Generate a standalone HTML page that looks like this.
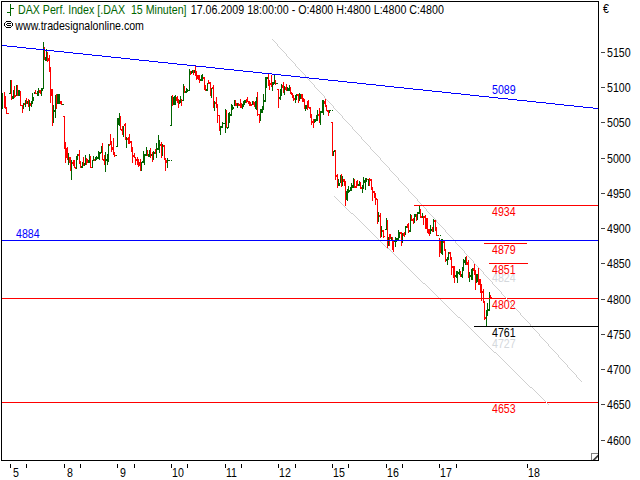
<!DOCTYPE html>
<html><head><meta charset="utf-8"><title>DAX Perf. Index</title>
<style>
html,body{margin:0;padding:0;background:#fff;}
body{width:640px;height:480px;overflow:hidden;position:relative;}
svg{position:absolute;left:0;top:0;display:block;}
text{font-family:"Liberation Sans",sans-serif;font-size:12px;}
.c{shape-rendering:crispEdges;}
</style></head><body>
<svg width="640" height="480" viewBox="0 0 640 480">
<rect x="0" y="0" width="640" height="480" fill="#fff"/>
<g class="c">
<rect x="2" y="93" width="1" height="16" fill="#006400"/>
<rect x="4" y="92" width="1" height="16" fill="#ff0000"/>
<rect x="5" y="96" width="1" height="13" fill="#ff0000"/>
<rect x="6" y="107" width="1" height="7" fill="#ff0000"/>
<rect x="7" y="113" width="1" height="1" fill="#ff0000"/>
<rect x="8" y="113" width="1" height="1" fill="#ff0000"/>
<rect x="9" y="93" width="1" height="1" fill="#006400"/>
<rect x="10" y="80" width="1" height="14" fill="#006400"/>
<rect x="11" y="80" width="1" height="20" fill="#ff0000"/>
<rect x="12" y="96" width="1" height="3" fill="#006400"/>
<rect x="13" y="90" width="1" height="9" fill="#006400"/>
<rect x="14" y="86" width="1" height="12" fill="#ff0000"/>
<rect x="15" y="95" width="1" height="2" fill="#ff0000"/>
<rect x="16" y="85" width="1" height="11" fill="#006400"/>
<rect x="17" y="85" width="1" height="11" fill="#ff0000"/>
<rect x="18" y="90" width="1" height="6" fill="#006400"/>
<rect x="19" y="90" width="1" height="6" fill="#006400"/>
<rect x="20" y="91" width="1" height="15" fill="#ff0000"/>
<rect x="21" y="105" width="1" height="1" fill="#ff0000"/>
<rect x="22" y="105" width="1" height="8" fill="#ff0000"/>
<rect x="23" y="103" width="1" height="6" fill="#006400"/>
<rect x="24" y="103" width="1" height="2" fill="#ff0000"/>
<rect x="25" y="100" width="1" height="7" fill="#006400"/>
<rect x="26" y="98" width="1" height="6" fill="#ff0000"/>
<rect x="27" y="101" width="1" height="3" fill="#006400"/>
<rect x="28" y="99" width="1" height="8" fill="#ff0000"/>
<rect x="29" y="100" width="1" height="11" fill="#006400"/>
<rect x="30" y="103" width="1" height="3" fill="#ff0000"/>
<rect x="31" y="101" width="1" height="6" fill="#006400"/>
<rect x="32" y="93" width="1" height="11" fill="#006400"/>
<rect x="33" y="97" width="1" height="4" fill="#006400"/>
<rect x="34" y="92" width="1" height="2" fill="#006400"/>
<rect x="35" y="90" width="1" height="4" fill="#ff0000"/>
<rect x="36" y="93" width="1" height="1" fill="#ff0000"/>
<rect x="37" y="91" width="1" height="5" fill="#006400"/>
<rect x="38" y="88" width="1" height="8" fill="#006400"/>
<rect x="39" y="90" width="1" height="3" fill="#ff0000"/>
<rect x="40" y="90" width="1" height="4" fill="#ff0000"/>
<rect x="41" y="88" width="1" height="8" fill="#006400"/>
<rect x="42" y="88" width="1" height="3" fill="#006400"/>
<rect x="43" y="42" width="1" height="47" fill="#006400"/>
<rect x="44" y="47" width="1" height="13" fill="#ff0000"/>
<rect x="45" y="57" width="1" height="4" fill="#006400"/>
<rect x="46" y="49" width="1" height="12" fill="#006400"/>
<rect x="47" y="52" width="1" height="10" fill="#ff0000"/>
<rect x="48" y="58" width="1" height="3" fill="#ff0000"/>
<rect x="49" y="55" width="1" height="17" fill="#ff0000"/>
<rect x="50" y="67" width="1" height="36" fill="#ff0000"/>
<rect x="51" y="89" width="1" height="7" fill="#ff0000"/>
<rect x="52" y="89" width="1" height="37" fill="#ff0000"/>
<rect x="53" y="105" width="1" height="18" fill="#006400"/>
<rect x="54" y="110" width="1" height="2" fill="#006400"/>
<rect x="55" y="95" width="1" height="23" fill="#006400"/>
<rect x="56" y="94" width="1" height="15" fill="#ff0000"/>
<rect x="57" y="94" width="1" height="10" fill="#006400"/>
<rect x="58" y="94" width="1" height="10" fill="#006400"/>
<rect x="59" y="94" width="1" height="10" fill="#006400"/>
<rect x="60" y="101" width="1" height="3" fill="#ff0000"/>
<rect x="61" y="101" width="1" height="4" fill="#ff0000"/>
<rect x="62" y="104" width="1" height="1" fill="#006400"/>
<rect x="63" y="104" width="1" height="1" fill="#006400"/>
<rect x="63" y="116" width="1" height="1" fill="#ff0000"/>
<rect x="64" y="116" width="1" height="33" fill="#ff0000"/>
<rect x="65" y="142" width="1" height="21" fill="#ff0000"/>
<rect x="66" y="148" width="1" height="10" fill="#ff0000"/>
<rect x="67" y="147" width="1" height="13" fill="#ff0000"/>
<rect x="68" y="153" width="1" height="12" fill="#006400"/>
<rect x="69" y="157" width="1" height="6" fill="#ff0000"/>
<rect x="70" y="157" width="1" height="14" fill="#ff0000"/>
<rect x="71" y="160" width="1" height="20" fill="#006400"/>
<rect x="72" y="162" width="1" height="2" fill="#ff0000"/>
<rect x="73" y="160" width="1" height="6" fill="#ff0000"/>
<rect x="74" y="160" width="1" height="8" fill="#ff0000"/>
<rect x="75" y="167" width="1" height="2" fill="#ff0000"/>
<rect x="76" y="156" width="1" height="13" fill="#006400"/>
<rect x="77" y="154" width="1" height="6" fill="#006400"/>
<rect x="78" y="154" width="1" height="2" fill="#ff0000"/>
<rect x="79" y="150" width="1" height="14" fill="#ff0000"/>
<rect x="80" y="161" width="1" height="7" fill="#ff0000"/>
<rect x="81" y="166" width="1" height="2" fill="#006400"/>
<rect x="82" y="162" width="1" height="6" fill="#006400"/>
<rect x="83" y="157" width="1" height="9" fill="#ff0000"/>
<rect x="84" y="163" width="1" height="3" fill="#006400"/>
<rect x="85" y="155" width="1" height="10" fill="#006400"/>
<rect x="86" y="158" width="1" height="7" fill="#ff0000"/>
<rect x="87" y="159" width="1" height="4" fill="#ff0000"/>
<rect x="88" y="160" width="1" height="3" fill="#006400"/>
<rect x="89" y="154" width="1" height="9" fill="#006400"/>
<rect x="90" y="156" width="1" height="12" fill="#ff0000"/>
<rect x="91" y="167" width="1" height="1" fill="#ff0000"/>
<rect x="92" y="160" width="1" height="8" fill="#006400"/>
<rect x="93" y="156" width="1" height="5" fill="#006400"/>
<rect x="94" y="159" width="1" height="2" fill="#ff0000"/>
<rect x="95" y="157" width="1" height="4" fill="#006400"/>
<rect x="96" y="156" width="1" height="4" fill="#006400"/>
<rect x="97" y="157" width="1" height="2" fill="#006400"/>
<rect x="98" y="151" width="1" height="8" fill="#006400"/>
<rect x="99" y="152" width="1" height="8" fill="#006400"/>
<rect x="100" y="152" width="1" height="2" fill="#006400"/>
<rect x="101" y="146" width="1" height="7" fill="#006400"/>
<rect x="102" y="143" width="1" height="17" fill="#ff0000"/>
<rect x="103" y="159" width="1" height="2" fill="#ff0000"/>
<rect x="104" y="155" width="1" height="10" fill="#ff0000"/>
<rect x="105" y="152" width="1" height="20" fill="#006400"/>
<rect x="106" y="159" width="1" height="2" fill="#006400"/>
<rect x="107" y="154" width="1" height="11" fill="#006400"/>
<rect x="108" y="144" width="1" height="18" fill="#006400"/>
<rect x="109" y="144" width="1" height="2" fill="#ff0000"/>
<rect x="110" y="134" width="1" height="11" fill="#ff0000"/>
<rect x="111" y="141" width="1" height="11" fill="#ff0000"/>
<rect x="112" y="147" width="1" height="3" fill="#ff0000"/>
<rect x="113" y="138" width="1" height="17" fill="#ff0000"/>
<rect x="114" y="152" width="1" height="5" fill="#ff0000"/>
<rect x="115" y="155" width="1" height="1" fill="#ff0000"/>
<rect x="116" y="146" width="1" height="1" fill="#006400"/>
<rect x="116" y="155" width="1" height="1" fill="#006400"/>
<rect x="117" y="118" width="1" height="29" fill="#006400"/>
<rect x="118" y="118" width="1" height="7" fill="#006400"/>
<rect x="119" y="113" width="1" height="13" fill="#006400"/>
<rect x="120" y="116" width="1" height="14" fill="#ff0000"/>
<rect x="121" y="129" width="1" height="2" fill="#ff0000"/>
<rect x="122" y="126" width="1" height="9" fill="#ff0000"/>
<rect x="123" y="126" width="1" height="11" fill="#006400"/>
<rect x="124" y="124" width="1" height="2" fill="#ff0000"/>
<rect x="125" y="123" width="1" height="17" fill="#ff0000"/>
<rect x="126" y="137" width="1" height="11" fill="#006400"/>
<rect x="127" y="138" width="1" height="2" fill="#ff0000"/>
<rect x="128" y="137" width="1" height="7" fill="#ff0000"/>
<rect x="129" y="134" width="1" height="10" fill="#ff0000"/>
<rect x="130" y="141" width="1" height="2" fill="#ff0000"/>
<rect x="131" y="141" width="1" height="11" fill="#ff0000"/>
<rect x="132" y="147" width="1" height="16" fill="#ff0000"/>
<rect x="133" y="155" width="1" height="2" fill="#ff0000"/>
<rect x="134" y="153" width="1" height="5" fill="#ff0000"/>
<rect x="135" y="157" width="1" height="8" fill="#ff0000"/>
<rect x="136" y="159" width="1" height="2" fill="#ff0000"/>
<rect x="137" y="157" width="1" height="8" fill="#ff0000"/>
<rect x="138" y="159" width="1" height="8" fill="#ff0000"/>
<rect x="139" y="162" width="1" height="4" fill="#ff0000"/>
<rect x="140" y="159" width="1" height="12" fill="#ff0000"/>
<rect x="141" y="162" width="1" height="9" fill="#006400"/>
<rect x="142" y="161" width="1" height="2" fill="#006400"/>
<rect x="143" y="151" width="1" height="12" fill="#006400"/>
<rect x="144" y="154" width="1" height="11" fill="#006400"/>
<rect x="145" y="154" width="1" height="2" fill="#006400"/>
<rect x="146" y="147" width="1" height="9" fill="#006400"/>
<rect x="147" y="150" width="1" height="6" fill="#ff0000"/>
<rect x="148" y="154" width="1" height="3" fill="#006400"/>
<rect x="149" y="150" width="1" height="7" fill="#006400"/>
<rect x="150" y="148" width="1" height="10" fill="#ff0000"/>
<rect x="151" y="154" width="1" height="2" fill="#006400"/>
<rect x="152" y="152" width="1" height="10" fill="#ff0000"/>
<rect x="153" y="151" width="1" height="9" fill="#006400"/>
<rect x="154" y="152" width="1" height="2" fill="#006400"/>
<rect x="155" y="149" width="1" height="5" fill="#ff0000"/>
<rect x="156" y="143" width="1" height="15" fill="#006400"/>
<rect x="157" y="148" width="1" height="2" fill="#006400"/>
<rect x="158" y="135" width="1" height="15" fill="#006400"/>
<rect x="159" y="140" width="1" height="13" fill="#006400"/>
<rect x="160" y="144" width="1" height="2" fill="#ff0000"/>
<rect x="161" y="142" width="1" height="16" fill="#ff0000"/>
<rect x="162" y="144" width="1" height="12" fill="#006400"/>
<rect x="163" y="145" width="1" height="2" fill="#ff0000"/>
<rect x="164" y="145" width="1" height="15" fill="#ff0000"/>
<rect x="165" y="158" width="1" height="13" fill="#ff0000"/>
<rect x="166" y="160" width="1" height="3" fill="#ff0000"/>
<rect x="167" y="158" width="1" height="10" fill="#006400"/>
<rect x="168" y="160" width="1" height="1" fill="#006400"/>
<rect x="169" y="160" width="1" height="1" fill="#006400"/>
<rect x="171" y="160" width="1" height="1" fill="#006400"/>
<rect x="170" y="125" width="1" height="1" fill="#006400"/>
<rect x="171" y="96" width="1" height="30" fill="#006400"/>
<rect x="172" y="95" width="1" height="11" fill="#ff0000"/>
<rect x="173" y="97" width="1" height="8" fill="#006400"/>
<rect x="174" y="96" width="1" height="9" fill="#006400"/>
<rect x="175" y="95" width="1" height="10" fill="#006400"/>
<rect x="176" y="97" width="1" height="4" fill="#ff0000"/>
<rect x="177" y="96" width="1" height="7" fill="#ff0000"/>
<rect x="178" y="99" width="1" height="9" fill="#ff0000"/>
<rect x="179" y="100" width="1" height="4" fill="#006400"/>
<rect x="180" y="96" width="1" height="7" fill="#006400"/>
<rect x="181" y="99" width="1" height="7" fill="#ff0000"/>
<rect x="182" y="100" width="1" height="1" fill="#006400"/>
<rect x="183" y="84" width="1" height="17" fill="#006400"/>
<rect x="184" y="86" width="1" height="7" fill="#ff0000"/>
<rect x="185" y="91" width="1" height="2" fill="#006400"/>
<rect x="186" y="88" width="1" height="5" fill="#006400"/>
<rect x="187" y="89" width="1" height="3" fill="#006400"/>
<rect x="188" y="90" width="1" height="1" fill="#006400"/>
<rect x="189" y="69" width="1" height="22" fill="#006400"/>
<rect x="190" y="71" width="1" height="4" fill="#ff0000"/>
<rect x="191" y="71" width="1" height="3" fill="#006400"/>
<rect x="192" y="70" width="1" height="3" fill="#006400"/>
<rect x="193" y="70" width="1" height="5" fill="#ff0000"/>
<rect x="194" y="70" width="1" height="3" fill="#006400"/>
<rect x="195" y="65" width="1" height="11" fill="#ff0000"/>
<rect x="196" y="71" width="1" height="9" fill="#ff0000"/>
<rect x="197" y="75" width="1" height="4" fill="#ff0000"/>
<rect x="198" y="75" width="1" height="5" fill="#ff0000"/>
<rect x="199" y="75" width="1" height="8" fill="#ff0000"/>
<rect x="200" y="79" width="1" height="2" fill="#006400"/>
<rect x="201" y="75" width="1" height="6" fill="#006400"/>
<rect x="202" y="74" width="1" height="7" fill="#006400"/>
<rect x="203" y="77" width="1" height="2" fill="#ff0000"/>
<rect x="204" y="77" width="1" height="13" fill="#ff0000"/>
<rect x="205" y="85" width="1" height="6" fill="#ff0000"/>
<rect x="206" y="89" width="1" height="2" fill="#006400"/>
<rect x="207" y="83" width="1" height="8" fill="#006400"/>
<rect x="208" y="80" width="1" height="4" fill="#ff0000"/>
<rect x="209" y="82" width="1" height="2" fill="#ff0000"/>
<rect x="210" y="82" width="1" height="14" fill="#ff0000"/>
<rect x="211" y="88" width="1" height="10" fill="#006400"/>
<rect x="212" y="87" width="1" height="2" fill="#ff0000"/>
<rect x="213" y="85" width="1" height="23" fill="#ff0000"/>
<rect x="214" y="101" width="1" height="10" fill="#006400"/>
<rect x="215" y="102" width="1" height="2" fill="#ff0000"/>
<rect x="216" y="97" width="1" height="11" fill="#ff0000"/>
<rect x="217" y="104" width="1" height="19" fill="#ff0000"/>
<rect x="218" y="115" width="1" height="1" fill="#ff0000"/>
<rect x="219" y="115" width="1" height="16" fill="#ff0000"/>
<rect x="220" y="126" width="1" height="9" fill="#006400"/>
<rect x="221" y="126" width="1" height="2" fill="#006400"/>
<rect x="222" y="122" width="1" height="6" fill="#006400"/>
<rect x="223" y="123" width="1" height="1" fill="#006400"/>
<rect x="224" y="123" width="1" height="1" fill="#006400"/>
<rect x="225" y="109" width="1" height="24" fill="#006400"/>
<rect x="226" y="110" width="1" height="18" fill="#ff0000"/>
<rect x="227" y="127" width="1" height="2" fill="#006400"/>
<rect x="228" y="113" width="1" height="15" fill="#006400"/>
<rect x="229" y="112" width="1" height="11" fill="#006400"/>
<rect x="230" y="114" width="1" height="2" fill="#006400"/>
<rect x="231" y="104" width="1" height="12" fill="#006400"/>
<rect x="232" y="105" width="1" height="5" fill="#006400"/>
<rect x="233" y="107" width="1" height="2" fill="#006400"/>
<rect x="234" y="100" width="1" height="6" fill="#006400"/>
<rect x="235" y="100" width="1" height="6" fill="#ff0000"/>
<rect x="236" y="103" width="1" height="3" fill="#ff0000"/>
<rect x="237" y="103" width="1" height="5" fill="#006400"/>
<rect x="238" y="103" width="1" height="3" fill="#ff0000"/>
<rect x="239" y="104" width="1" height="2" fill="#ff0000"/>
<rect x="240" y="99" width="1" height="9" fill="#ff0000"/>
<rect x="241" y="103" width="1" height="5" fill="#ff0000"/>
<rect x="242" y="104" width="1" height="5" fill="#006400"/>
<rect x="243" y="101" width="1" height="6" fill="#006400"/>
<rect x="244" y="100" width="1" height="5" fill="#006400"/>
<rect x="245" y="100" width="1" height="3" fill="#006400"/>
<rect x="246" y="99" width="1" height="4" fill="#ff0000"/>
<rect x="247" y="97" width="1" height="5" fill="#ff0000"/>
<rect x="248" y="101" width="1" height="3" fill="#ff0000"/>
<rect x="249" y="101" width="1" height="5" fill="#ff0000"/>
<rect x="250" y="102" width="1" height="4" fill="#ff0000"/>
<rect x="251" y="104" width="1" height="2" fill="#ff0000"/>
<rect x="252" y="101" width="1" height="4" fill="#006400"/>
<rect x="253" y="101" width="1" height="4" fill="#ff0000"/>
<rect x="254" y="102" width="1" height="5" fill="#ff0000"/>
<rect x="255" y="101" width="1" height="8" fill="#006400"/>
<rect x="256" y="97" width="1" height="13" fill="#006400"/>
<rect x="257" y="92" width="1" height="24" fill="#ff0000"/>
<rect x="258" y="114" width="1" height="1" fill="#ff0000"/>
<rect x="259" y="114" width="1" height="9" fill="#ff0000"/>
<rect x="260" y="109" width="1" height="12" fill="#006400"/>
<rect x="261" y="109" width="1" height="4" fill="#006400"/>
<rect x="262" y="106" width="1" height="7" fill="#006400"/>
<rect x="263" y="94" width="1" height="16" fill="#006400"/>
<rect x="264" y="100" width="1" height="2" fill="#006400"/>
<rect x="265" y="77" width="1" height="25" fill="#006400"/>
<rect x="266" y="77" width="1" height="11" fill="#006400"/>
<rect x="267" y="77" width="1" height="2" fill="#006400"/>
<rect x="268" y="74" width="1" height="12" fill="#ff0000"/>
<rect x="269" y="80" width="1" height="10" fill="#ff0000"/>
<rect x="270" y="83" width="1" height="2" fill="#ff0000"/>
<rect x="271" y="75" width="1" height="12" fill="#ff0000"/>
<rect x="272" y="82" width="1" height="9" fill="#006400"/>
<rect x="273" y="82" width="1" height="3" fill="#006400"/>
<rect x="274" y="75" width="1" height="9" fill="#006400"/>
<rect x="275" y="80" width="1" height="5" fill="#ff0000"/>
<rect x="276" y="83" width="1" height="1" fill="#006400"/>
<rect x="277" y="83" width="1" height="1" fill="#006400"/>
<rect x="277" y="89" width="1" height="1" fill="#ff0000"/>
<rect x="278" y="89" width="1" height="19" fill="#ff0000"/>
<rect x="279" y="97" width="1" height="2" fill="#006400"/>
<rect x="280" y="89" width="1" height="11" fill="#006400"/>
<rect x="281" y="84" width="1" height="12" fill="#006400"/>
<rect x="282" y="85" width="1" height="3" fill="#ff0000"/>
<rect x="283" y="82" width="1" height="11" fill="#ff0000"/>
<rect x="284" y="86" width="1" height="9" fill="#006400"/>
<rect x="285" y="87" width="1" height="3" fill="#ff0000"/>
<rect x="286" y="84" width="1" height="7" fill="#ff0000"/>
<rect x="287" y="87" width="1" height="4" fill="#006400"/>
<rect x="288" y="88" width="1" height="3" fill="#006400"/>
<rect x="289" y="85" width="1" height="6" fill="#006400"/>
<rect x="290" y="87" width="1" height="7" fill="#ff0000"/>
<rect x="291" y="92" width="1" height="3" fill="#ff0000"/>
<rect x="292" y="93" width="1" height="5" fill="#ff0000"/>
<rect x="293" y="95" width="1" height="6" fill="#ff0000"/>
<rect x="294" y="98" width="1" height="2" fill="#ff0000"/>
<rect x="295" y="95" width="1" height="8" fill="#006400"/>
<rect x="296" y="94" width="1" height="6" fill="#006400"/>
<rect x="297" y="94" width="1" height="2" fill="#ff0000"/>
<rect x="298" y="94" width="1" height="9" fill="#ff0000"/>
<rect x="299" y="93" width="1" height="8" fill="#006400"/>
<rect x="300" y="94" width="1" height="5" fill="#006400"/>
<rect x="301" y="94" width="1" height="5" fill="#ff0000"/>
<rect x="302" y="94" width="1" height="8" fill="#ff0000"/>
<rect x="303" y="98" width="1" height="4" fill="#ff0000"/>
<rect x="304" y="99" width="1" height="10" fill="#ff0000"/>
<rect x="305" y="105" width="1" height="6" fill="#006400"/>
<rect x="306" y="105" width="1" height="4" fill="#006400"/>
<rect x="307" y="101" width="1" height="9" fill="#ff0000"/>
<rect x="308" y="100" width="1" height="8" fill="#ff0000"/>
<rect x="309" y="107" width="1" height="2" fill="#ff0000"/>
<rect x="310" y="107" width="1" height="11" fill="#ff0000"/>
<rect x="311" y="114" width="1" height="11" fill="#ff0000"/>
<rect x="312" y="121" width="1" height="2" fill="#ff0000"/>
<rect x="313" y="119" width="1" height="9" fill="#ff0000"/>
<rect x="314" y="119" width="1" height="4" fill="#006400"/>
<rect x="315" y="119" width="1" height="3" fill="#006400"/>
<rect x="316" y="115" width="1" height="6" fill="#006400"/>
<rect x="317" y="110" width="1" height="11" fill="#006400"/>
<rect x="318" y="114" width="1" height="2" fill="#ff0000"/>
<rect x="319" y="108" width="1" height="15" fill="#ff0000"/>
<rect x="320" y="111" width="1" height="14" fill="#006400"/>
<rect x="321" y="111" width="1" height="2" fill="#006400"/>
<rect x="322" y="100" width="1" height="13" fill="#006400"/>
<rect x="323" y="100" width="1" height="15" fill="#006400"/>
<rect x="324" y="101" width="1" height="3" fill="#ff0000"/>
<rect x="325" y="99" width="1" height="8" fill="#ff0000"/>
<rect x="326" y="105" width="1" height="6" fill="#ff0000"/>
<rect x="327" y="110" width="1" height="2" fill="#ff0000"/>
<rect x="328" y="110" width="1" height="6" fill="#ff0000"/>
<rect x="329" y="110" width="1" height="3" fill="#006400"/>
<rect x="330" y="110" width="1" height="1" fill="#006400"/>
<rect x="332" y="110" width="1" height="1" fill="#006400"/>
<rect x="331" y="122" width="1" height="1" fill="#ff0000"/>
<rect x="332" y="122" width="1" height="34" fill="#ff0000"/>
<rect x="333" y="151" width="1" height="5" fill="#006400"/>
<rect x="334" y="150" width="1" height="2" fill="#006400"/>
<rect x="335" y="150" width="1" height="30" fill="#ff0000"/>
<rect x="336" y="175" width="1" height="2" fill="#ff0000"/>
<rect x="337" y="174" width="1" height="14" fill="#ff0000"/>
<rect x="338" y="179" width="1" height="7" fill="#006400"/>
<rect x="339" y="183" width="1" height="3" fill="#006400"/>
<rect x="340" y="175" width="1" height="8" fill="#006400"/>
<rect x="341" y="174" width="1" height="13" fill="#ff0000"/>
<rect x="342" y="176" width="1" height="10" fill="#006400"/>
<rect x="343" y="179" width="1" height="3" fill="#ff0000"/>
<rect x="344" y="179" width="1" height="7" fill="#ff0000"/>
<rect x="345" y="181" width="1" height="25" fill="#ff0000"/>
<rect x="346" y="191" width="1" height="9" fill="#006400"/>
<rect x="347" y="189" width="1" height="12" fill="#006400"/>
<rect x="348" y="186" width="1" height="7" fill="#006400"/>
<rect x="349" y="190" width="1" height="2" fill="#006400"/>
<rect x="350" y="187" width="1" height="4" fill="#006400"/>
<rect x="351" y="183" width="1" height="8" fill="#006400"/>
<rect x="352" y="185" width="1" height="3" fill="#006400"/>
<rect x="353" y="178" width="1" height="10" fill="#006400"/>
<rect x="354" y="179" width="1" height="9" fill="#ff0000"/>
<rect x="355" y="186" width="1" height="2" fill="#ff0000"/>
<rect x="356" y="181" width="1" height="7" fill="#ff0000"/>
<rect x="357" y="180" width="1" height="6" fill="#ff0000"/>
<rect x="358" y="184" width="1" height="2" fill="#006400"/>
<rect x="359" y="181" width="1" height="5" fill="#006400"/>
<rect x="360" y="182" width="1" height="7" fill="#ff0000"/>
<rect x="361" y="187" width="1" height="2" fill="#ff0000"/>
<rect x="362" y="185" width="1" height="8" fill="#006400"/>
<rect x="363" y="177" width="1" height="12" fill="#006400"/>
<rect x="364" y="180" width="1" height="3" fill="#006400"/>
<rect x="365" y="178" width="1" height="12" fill="#006400"/>
<rect x="366" y="178" width="1" height="4" fill="#006400"/>
<rect x="367" y="179" width="1" height="1" fill="#ff0000"/>
<rect x="368" y="179" width="1" height="7" fill="#006400"/>
<rect x="369" y="178" width="1" height="8" fill="#ff0000"/>
<rect x="370" y="179" width="1" height="2" fill="#ff0000"/>
<rect x="371" y="179" width="1" height="11" fill="#ff0000"/>
<rect x="372" y="187" width="1" height="14" fill="#ff0000"/>
<rect x="373" y="191" width="1" height="2" fill="#ff0000"/>
<rect x="374" y="191" width="1" height="7" fill="#ff0000"/>
<rect x="375" y="193" width="1" height="12" fill="#ff0000"/>
<rect x="376" y="198" width="1" height="2" fill="#ff0000"/>
<rect x="377" y="199" width="1" height="25" fill="#ff0000"/>
<rect x="378" y="212" width="1" height="10" fill="#006400"/>
<rect x="379" y="215" width="1" height="2" fill="#ff0000"/>
<rect x="380" y="213" width="1" height="25" fill="#ff0000"/>
<rect x="381" y="226" width="1" height="11" fill="#006400"/>
<rect x="382" y="230" width="1" height="2" fill="#ff0000"/>
<rect x="383" y="230" width="1" height="8" fill="#ff0000"/>
<rect x="384" y="236" width="1" height="1" fill="#ff0000"/>
<rect x="385" y="229" width="1" height="1" fill="#006400"/>
<rect x="386" y="218" width="1" height="12" fill="#006400"/>
<rect x="387" y="220" width="1" height="29" fill="#ff0000"/>
<rect x="388" y="237" width="1" height="9" fill="#006400"/>
<rect x="389" y="234" width="1" height="12" fill="#ff0000"/>
<rect x="390" y="234" width="1" height="5" fill="#ff0000"/>
<rect x="391" y="237" width="1" height="4" fill="#006400"/>
<rect x="392" y="237" width="1" height="13" fill="#ff0000"/>
<rect x="393" y="241" width="1" height="11" fill="#ff0000"/>
<rect x="394" y="240" width="1" height="2" fill="#006400"/>
<rect x="395" y="237" width="1" height="10" fill="#006400"/>
<rect x="396" y="238" width="1" height="4" fill="#006400"/>
<rect x="397" y="238" width="1" height="3" fill="#006400"/>
<rect x="398" y="230" width="1" height="11" fill="#006400"/>
<rect x="399" y="232" width="1" height="6" fill="#006400"/>
<rect x="400" y="232" width="1" height="2" fill="#ff0000"/>
<rect x="401" y="232" width="1" height="14" fill="#ff0000"/>
<rect x="402" y="233" width="1" height="10" fill="#006400"/>
<rect x="403" y="233" width="1" height="3" fill="#ff0000"/>
<rect x="404" y="232" width="1" height="5" fill="#ff0000"/>
<rect x="405" y="226" width="1" height="9" fill="#006400"/>
<rect x="406" y="226" width="1" height="2" fill="#006400"/>
<rect x="407" y="224" width="1" height="4" fill="#ff0000"/>
<rect x="408" y="223" width="1" height="10" fill="#ff0000"/>
<rect x="409" y="230" width="1" height="2" fill="#006400"/>
<rect x="410" y="214" width="1" height="18" fill="#006400"/>
<rect x="411" y="215" width="1" height="6" fill="#ff0000"/>
<rect x="412" y="219" width="1" height="2" fill="#ff0000"/>
<rect x="413" y="218" width="1" height="6" fill="#ff0000"/>
<rect x="414" y="214" width="1" height="9" fill="#006400"/>
<rect x="415" y="214" width="1" height="3" fill="#006400"/>
<rect x="416" y="214" width="1" height="7" fill="#ff0000"/>
<rect x="417" y="212" width="1" height="8" fill="#006400"/>
<rect x="418" y="212" width="1" height="2" fill="#006400"/>
<rect x="419" y="205" width="1" height="9" fill="#006400"/>
<rect x="420" y="209" width="1" height="9" fill="#ff0000"/>
<rect x="421" y="216" width="1" height="2" fill="#ff0000"/>
<rect x="422" y="213" width="1" height="5" fill="#006400"/>
<rect x="423" y="216" width="1" height="9" fill="#ff0000"/>
<rect x="424" y="216" width="1" height="2" fill="#ff0000"/>
<rect x="425" y="215" width="1" height="14" fill="#ff0000"/>
<rect x="426" y="218" width="1" height="11" fill="#ff0000"/>
<rect x="427" y="218" width="1" height="15" fill="#ff0000"/>
<rect x="428" y="229" width="1" height="5" fill="#ff0000"/>
<rect x="429" y="229" width="1" height="7" fill="#ff0000"/>
<rect x="430" y="225" width="1" height="9" fill="#006400"/>
<rect x="431" y="229" width="1" height="2" fill="#006400"/>
<rect x="432" y="227" width="1" height="5" fill="#ff0000"/>
<rect x="433" y="219" width="1" height="13" fill="#006400"/>
<rect x="434" y="220" width="1" height="2" fill="#ff0000"/>
<rect x="435" y="220" width="1" height="11" fill="#ff0000"/>
<rect x="436" y="227" width="1" height="9" fill="#ff0000"/>
<rect x="437" y="235" width="1" height="1" fill="#ff0000"/>
<rect x="438" y="235" width="1" height="1" fill="#006400"/>
<rect x="440" y="235" width="1" height="1" fill="#006400"/>
<rect x="439" y="238" width="1" height="19" fill="#ff0000"/>
<rect x="440" y="241" width="1" height="12" fill="#ff0000"/>
<rect x="441" y="239" width="1" height="15" fill="#006400"/>
<rect x="442" y="239" width="1" height="16" fill="#006400"/>
<rect x="443" y="241" width="1" height="2" fill="#ff0000"/>
<rect x="444" y="241" width="1" height="10" fill="#ff0000"/>
<rect x="445" y="249" width="1" height="13" fill="#ff0000"/>
<rect x="446" y="259" width="1" height="2" fill="#006400"/>
<rect x="447" y="257" width="1" height="8" fill="#006400"/>
<rect x="448" y="252" width="1" height="8" fill="#006400"/>
<rect x="449" y="252" width="1" height="2" fill="#ff0000"/>
<rect x="450" y="252" width="1" height="8" fill="#ff0000"/>
<rect x="451" y="257" width="1" height="18" fill="#ff0000"/>
<rect x="452" y="266" width="1" height="2" fill="#ff0000"/>
<rect x="453" y="266" width="1" height="12" fill="#ff0000"/>
<rect x="454" y="266" width="1" height="17" fill="#ff0000"/>
<rect x="455" y="275" width="1" height="2" fill="#006400"/>
<rect x="456" y="271" width="1" height="7" fill="#006400"/>
<rect x="457" y="271" width="1" height="12" fill="#006400"/>
<rect x="458" y="272" width="1" height="2" fill="#006400"/>
<rect x="459" y="269" width="1" height="6" fill="#006400"/>
<rect x="460" y="271" width="1" height="6" fill="#ff0000"/>
<rect x="461" y="274" width="1" height="3" fill="#006400"/>
<rect x="462" y="267" width="1" height="11" fill="#006400"/>
<rect x="463" y="259" width="1" height="12" fill="#006400"/>
<rect x="464" y="260" width="1" height="3" fill="#006400"/>
<rect x="465" y="257" width="1" height="8" fill="#006400"/>
<rect x="466" y="256" width="1" height="9" fill="#ff0000"/>
<rect x="467" y="262" width="1" height="3" fill="#ff0000"/>
<rect x="468" y="260" width="1" height="18" fill="#ff0000"/>
<rect x="469" y="272" width="1" height="10" fill="#006400"/>
<rect x="470" y="275" width="1" height="2" fill="#006400"/>
<rect x="471" y="269" width="1" height="11" fill="#006400"/>
<rect x="472" y="268" width="1" height="12" fill="#006400"/>
<rect x="473" y="268" width="1" height="3" fill="#ff0000"/>
<rect x="474" y="264" width="1" height="11" fill="#ff0000"/>
<rect x="475" y="270" width="1" height="20" fill="#ff0000"/>
<rect x="476" y="274" width="1" height="9" fill="#006400"/>
<rect x="477" y="274" width="1" height="8" fill="#006400"/>
<rect x="478" y="268" width="1" height="17" fill="#ff0000"/>
<rect x="479" y="279" width="1" height="6" fill="#ff0000"/>
<rect x="480" y="279" width="1" height="14" fill="#ff0000"/>
<rect x="481" y="284" width="1" height="17" fill="#ff0000"/>
<rect x="482" y="291" width="1" height="2" fill="#ff0000"/>
<rect x="483" y="289" width="1" height="14" fill="#ff0000"/>
<rect x="484" y="301" width="1" height="19" fill="#ff0000"/>
<rect x="485" y="317" width="1" height="2" fill="#ff0000"/>
<rect x="486" y="310" width="1" height="17" fill="#006400"/>
<rect x="487" y="303" width="1" height="13" fill="#006400"/>
<rect x="488" y="309" width="1" height="2" fill="#006400"/>
<rect x="489" y="292" width="1" height="19" fill="#006400"/>
<rect x="490" y="295" width="1" height="4" fill="#ff0000"/>
<rect x="491" y="297" width="1" height="2" fill="#ff0000"/>
<rect x="492" y="298" width="1" height="1" fill="#006400"/>
<rect x="493" y="298" width="1" height="1" fill="#006400"/>
</g>
<g class="c" fill="#d0d0d0">
<rect x="272" y="39" width="1" height="1"/>
<rect x="273" y="40" width="1" height="1"/>
<rect x="274" y="41" width="1" height="1"/>
<rect x="275" y="42" width="1" height="1"/>
<rect x="276" y="43" width="1" height="1"/>
<rect x="277" y="44" width="1" height="2"/>
<rect x="278" y="46" width="1" height="1"/>
<rect x="279" y="47" width="1" height="1"/>
<rect x="280" y="48" width="1" height="1"/>
<rect x="281" y="49" width="1" height="1"/>
<rect x="282" y="50" width="1" height="1"/>
<rect x="283" y="51" width="1" height="1"/>
<rect x="284" y="52" width="1" height="1"/>
<rect x="285" y="53" width="1" height="1"/>
<rect x="286" y="54" width="1" height="2"/>
<rect x="287" y="56" width="1" height="1"/>
<rect x="288" y="57" width="1" height="1"/>
<rect x="289" y="58" width="1" height="1"/>
<rect x="290" y="59" width="1" height="1"/>
<rect x="291" y="60" width="1" height="1"/>
<rect x="292" y="61" width="1" height="1"/>
<rect x="293" y="62" width="1" height="1"/>
<rect x="294" y="63" width="1" height="1"/>
<rect x="295" y="64" width="1" height="2"/>
<rect x="296" y="66" width="1" height="1"/>
<rect x="297" y="67" width="1" height="1"/>
<rect x="298" y="68" width="1" height="1"/>
<rect x="299" y="69" width="1" height="1"/>
<rect x="300" y="70" width="1" height="1"/>
<rect x="301" y="71" width="1" height="1"/>
<rect x="302" y="72" width="1" height="1"/>
<rect x="303" y="73" width="1" height="1"/>
<rect x="304" y="74" width="1" height="1"/>
<rect x="305" y="75" width="1" height="2"/>
<rect x="306" y="77" width="1" height="1"/>
<rect x="307" y="78" width="1" height="1"/>
<rect x="308" y="79" width="1" height="1"/>
<rect x="309" y="80" width="1" height="1"/>
<rect x="310" y="81" width="1" height="1"/>
<rect x="311" y="82" width="1" height="1"/>
<rect x="312" y="83" width="1" height="1"/>
<rect x="313" y="84" width="1" height="1"/>
<rect x="314" y="85" width="1" height="2"/>
<rect x="315" y="87" width="1" height="1"/>
<rect x="316" y="88" width="1" height="1"/>
<rect x="317" y="89" width="1" height="1"/>
<rect x="318" y="90" width="1" height="1"/>
<rect x="319" y="91" width="1" height="1"/>
<rect x="320" y="92" width="1" height="1"/>
<rect x="321" y="93" width="1" height="1"/>
<rect x="322" y="94" width="1" height="1"/>
<rect x="323" y="95" width="1" height="1"/>
<rect x="324" y="96" width="1" height="2"/>
<rect x="325" y="98" width="1" height="1"/>
<rect x="326" y="99" width="1" height="1"/>
<rect x="327" y="100" width="1" height="1"/>
<rect x="328" y="101" width="1" height="1"/>
<rect x="329" y="102" width="1" height="1"/>
<rect x="330" y="103" width="1" height="1"/>
<rect x="331" y="104" width="1" height="1"/>
<rect x="332" y="105" width="1" height="1"/>
<rect x="333" y="106" width="1" height="2"/>
<rect x="334" y="108" width="1" height="1"/>
<rect x="335" y="109" width="1" height="1"/>
<rect x="336" y="110" width="1" height="1"/>
<rect x="337" y="111" width="1" height="1"/>
<rect x="338" y="112" width="1" height="1"/>
<rect x="339" y="113" width="1" height="1"/>
<rect x="340" y="114" width="1" height="1"/>
<rect x="341" y="115" width="1" height="1"/>
<rect x="342" y="116" width="1" height="2"/>
<rect x="343" y="118" width="1" height="1"/>
<rect x="344" y="119" width="1" height="1"/>
<rect x="345" y="120" width="1" height="1"/>
<rect x="346" y="121" width="1" height="1"/>
<rect x="347" y="122" width="1" height="1"/>
<rect x="348" y="123" width="1" height="1"/>
<rect x="349" y="124" width="1" height="1"/>
<rect x="350" y="125" width="1" height="1"/>
<rect x="351" y="126" width="1" height="1"/>
<rect x="352" y="127" width="1" height="2"/>
<rect x="353" y="129" width="1" height="1"/>
<rect x="354" y="130" width="1" height="1"/>
<rect x="355" y="131" width="1" height="1"/>
<rect x="356" y="132" width="1" height="1"/>
<rect x="357" y="133" width="1" height="1"/>
<rect x="358" y="134" width="1" height="1"/>
<rect x="359" y="135" width="1" height="1"/>
<rect x="360" y="136" width="1" height="1"/>
<rect x="361" y="137" width="1" height="2"/>
<rect x="362" y="139" width="1" height="1"/>
<rect x="363" y="140" width="1" height="1"/>
<rect x="364" y="141" width="1" height="1"/>
<rect x="365" y="142" width="1" height="1"/>
<rect x="366" y="143" width="1" height="1"/>
<rect x="367" y="144" width="1" height="1"/>
<rect x="368" y="145" width="1" height="1"/>
<rect x="369" y="146" width="1" height="1"/>
<rect x="370" y="147" width="1" height="2"/>
<rect x="371" y="149" width="1" height="1"/>
<rect x="372" y="150" width="1" height="1"/>
<rect x="373" y="151" width="1" height="1"/>
<rect x="374" y="152" width="1" height="1"/>
<rect x="375" y="153" width="1" height="1"/>
<rect x="376" y="154" width="1" height="1"/>
<rect x="377" y="155" width="1" height="1"/>
<rect x="378" y="156" width="1" height="1"/>
<rect x="379" y="157" width="1" height="1"/>
<rect x="380" y="158" width="1" height="2"/>
<rect x="381" y="160" width="1" height="1"/>
<rect x="382" y="161" width="1" height="1"/>
<rect x="383" y="162" width="1" height="1"/>
<rect x="384" y="163" width="1" height="1"/>
<rect x="385" y="164" width="1" height="1"/>
<rect x="386" y="165" width="1" height="1"/>
<rect x="387" y="166" width="1" height="1"/>
<rect x="388" y="167" width="1" height="1"/>
<rect x="389" y="168" width="1" height="2"/>
<rect x="390" y="170" width="1" height="1"/>
<rect x="391" y="171" width="1" height="1"/>
<rect x="392" y="172" width="1" height="1"/>
<rect x="393" y="173" width="1" height="1"/>
<rect x="394" y="174" width="1" height="1"/>
<rect x="395" y="175" width="1" height="1"/>
<rect x="396" y="176" width="1" height="1"/>
<rect x="397" y="177" width="1" height="1"/>
<rect x="398" y="178" width="1" height="2"/>
<rect x="399" y="180" width="1" height="1"/>
<rect x="400" y="181" width="1" height="1"/>
<rect x="401" y="182" width="1" height="1"/>
<rect x="402" y="183" width="1" height="1"/>
<rect x="403" y="184" width="1" height="1"/>
<rect x="404" y="185" width="1" height="1"/>
<rect x="405" y="186" width="1" height="1"/>
<rect x="406" y="187" width="1" height="1"/>
<rect x="407" y="188" width="1" height="1"/>
<rect x="408" y="189" width="1" height="2"/>
<rect x="409" y="191" width="1" height="1"/>
<rect x="410" y="192" width="1" height="1"/>
<rect x="411" y="193" width="1" height="1"/>
<rect x="412" y="194" width="1" height="1"/>
<rect x="413" y="195" width="1" height="1"/>
<rect x="414" y="196" width="1" height="1"/>
<rect x="415" y="197" width="1" height="1"/>
<rect x="416" y="198" width="1" height="1"/>
<rect x="417" y="199" width="1" height="2"/>
<rect x="418" y="201" width="1" height="1"/>
<rect x="419" y="202" width="1" height="1"/>
<rect x="420" y="203" width="1" height="1"/>
<rect x="421" y="204" width="1" height="1"/>
<rect x="422" y="205" width="1" height="1"/>
<rect x="423" y="206" width="1" height="1"/>
<rect x="424" y="207" width="1" height="1"/>
<rect x="425" y="208" width="1" height="1"/>
<rect x="426" y="209" width="1" height="2"/>
<rect x="427" y="211" width="1" height="1"/>
<rect x="428" y="212" width="1" height="1"/>
<rect x="429" y="213" width="1" height="1"/>
<rect x="430" y="214" width="1" height="1"/>
<rect x="431" y="215" width="1" height="1"/>
<rect x="432" y="216" width="1" height="1"/>
<rect x="433" y="217" width="1" height="1"/>
<rect x="434" y="218" width="1" height="1"/>
<rect x="435" y="219" width="1" height="1"/>
<rect x="436" y="220" width="1" height="2"/>
<rect x="437" y="222" width="1" height="1"/>
<rect x="438" y="223" width="1" height="1"/>
<rect x="439" y="224" width="1" height="1"/>
<rect x="440" y="225" width="1" height="1"/>
<rect x="441" y="226" width="1" height="1"/>
<rect x="442" y="227" width="1" height="1"/>
<rect x="443" y="228" width="1" height="1"/>
<rect x="444" y="229" width="1" height="1"/>
<rect x="445" y="230" width="1" height="2"/>
<rect x="446" y="232" width="1" height="1"/>
<rect x="447" y="233" width="1" height="1"/>
<rect x="448" y="234" width="1" height="1"/>
<rect x="449" y="235" width="1" height="1"/>
<rect x="450" y="236" width="1" height="1"/>
<rect x="451" y="237" width="1" height="1"/>
<rect x="452" y="238" width="1" height="1"/>
<rect x="453" y="239" width="1" height="1"/>
<rect x="454" y="240" width="1" height="1"/>
<rect x="455" y="241" width="1" height="2"/>
<rect x="456" y="243" width="1" height="1"/>
<rect x="457" y="244" width="1" height="1"/>
<rect x="458" y="245" width="1" height="1"/>
<rect x="459" y="246" width="1" height="1"/>
<rect x="460" y="247" width="1" height="1"/>
<rect x="461" y="248" width="1" height="1"/>
<rect x="462" y="249" width="1" height="1"/>
<rect x="463" y="250" width="1" height="1"/>
<rect x="464" y="251" width="1" height="2"/>
<rect x="465" y="253" width="1" height="1"/>
<rect x="466" y="254" width="1" height="1"/>
<rect x="467" y="255" width="1" height="1"/>
<rect x="468" y="256" width="1" height="1"/>
<rect x="469" y="257" width="1" height="1"/>
<rect x="470" y="258" width="1" height="1"/>
<rect x="471" y="259" width="1" height="1"/>
<rect x="472" y="260" width="1" height="1"/>
<rect x="473" y="261" width="1" height="2"/>
<rect x="474" y="263" width="1" height="1"/>
<rect x="475" y="264" width="1" height="1"/>
<rect x="476" y="265" width="1" height="1"/>
<rect x="477" y="266" width="1" height="1"/>
<rect x="478" y="267" width="1" height="1"/>
<rect x="479" y="268" width="1" height="1"/>
<rect x="480" y="269" width="1" height="1"/>
<rect x="481" y="270" width="1" height="1"/>
<rect x="482" y="271" width="1" height="1"/>
<rect x="483" y="272" width="1" height="2"/>
<rect x="484" y="274" width="1" height="1"/>
<rect x="485" y="275" width="1" height="1"/>
<rect x="486" y="276" width="1" height="1"/>
<rect x="487" y="277" width="1" height="1"/>
<rect x="488" y="278" width="1" height="1"/>
<rect x="489" y="279" width="1" height="1"/>
<rect x="490" y="280" width="1" height="1"/>
<rect x="491" y="281" width="1" height="1"/>
<rect x="492" y="282" width="1" height="2"/>
<rect x="493" y="284" width="1" height="1"/>
<rect x="494" y="285" width="1" height="1"/>
<rect x="495" y="286" width="1" height="1"/>
<rect x="496" y="287" width="1" height="1"/>
<rect x="497" y="288" width="1" height="1"/>
<rect x="498" y="289" width="1" height="1"/>
<rect x="499" y="290" width="1" height="1"/>
<rect x="500" y="291" width="1" height="1"/>
<rect x="501" y="292" width="1" height="2"/>
<rect x="502" y="294" width="1" height="1"/>
<rect x="503" y="295" width="1" height="1"/>
<rect x="504" y="296" width="1" height="1"/>
<rect x="505" y="297" width="1" height="1"/>
<rect x="506" y="298" width="1" height="1"/>
<rect x="507" y="299" width="1" height="1"/>
<rect x="508" y="300" width="1" height="1"/>
<rect x="509" y="301" width="1" height="1"/>
<rect x="510" y="302" width="1" height="1"/>
<rect x="511" y="303" width="1" height="2"/>
<rect x="512" y="305" width="1" height="1"/>
<rect x="513" y="306" width="1" height="1"/>
<rect x="514" y="307" width="1" height="1"/>
<rect x="515" y="308" width="1" height="1"/>
<rect x="516" y="309" width="1" height="1"/>
<rect x="517" y="310" width="1" height="1"/>
<rect x="518" y="311" width="1" height="1"/>
<rect x="519" y="312" width="1" height="1"/>
<rect x="520" y="313" width="1" height="2"/>
<rect x="521" y="315" width="1" height="1"/>
<rect x="522" y="316" width="1" height="1"/>
<rect x="523" y="317" width="1" height="1"/>
<rect x="524" y="318" width="1" height="1"/>
<rect x="525" y="319" width="1" height="1"/>
<rect x="526" y="320" width="1" height="1"/>
<rect x="527" y="321" width="1" height="1"/>
<rect x="528" y="322" width="1" height="1"/>
<rect x="529" y="323" width="1" height="1"/>
<rect x="530" y="324" width="1" height="2"/>
<rect x="531" y="326" width="1" height="1"/>
<rect x="532" y="327" width="1" height="1"/>
<rect x="533" y="328" width="1" height="1"/>
<rect x="534" y="329" width="1" height="1"/>
<rect x="535" y="330" width="1" height="1"/>
<rect x="536" y="331" width="1" height="1"/>
<rect x="537" y="332" width="1" height="1"/>
<rect x="538" y="333" width="1" height="1"/>
<rect x="539" y="334" width="1" height="2"/>
<rect x="540" y="336" width="1" height="1"/>
<rect x="541" y="337" width="1" height="1"/>
<rect x="542" y="338" width="1" height="1"/>
<rect x="543" y="339" width="1" height="1"/>
<rect x="544" y="340" width="1" height="1"/>
<rect x="545" y="341" width="1" height="1"/>
<rect x="546" y="342" width="1" height="1"/>
<rect x="547" y="343" width="1" height="1"/>
<rect x="548" y="344" width="1" height="2"/>
<rect x="549" y="346" width="1" height="1"/>
<rect x="550" y="347" width="1" height="1"/>
<rect x="551" y="348" width="1" height="1"/>
<rect x="552" y="349" width="1" height="1"/>
<rect x="553" y="350" width="1" height="1"/>
<rect x="554" y="351" width="1" height="1"/>
<rect x="555" y="352" width="1" height="1"/>
<rect x="556" y="353" width="1" height="1"/>
<rect x="557" y="354" width="1" height="1"/>
<rect x="558" y="355" width="1" height="2"/>
<rect x="559" y="357" width="1" height="1"/>
<rect x="560" y="358" width="1" height="1"/>
<rect x="561" y="359" width="1" height="1"/>
<rect x="562" y="360" width="1" height="1"/>
<rect x="563" y="361" width="1" height="1"/>
<rect x="564" y="362" width="1" height="1"/>
<rect x="565" y="363" width="1" height="1"/>
<rect x="566" y="364" width="1" height="1"/>
<rect x="567" y="365" width="1" height="2"/>
<rect x="568" y="367" width="1" height="1"/>
<rect x="569" y="368" width="1" height="1"/>
<rect x="570" y="369" width="1" height="1"/>
<rect x="571" y="370" width="1" height="1"/>
<rect x="572" y="371" width="1" height="1"/>
<rect x="573" y="372" width="1" height="1"/>
<rect x="574" y="373" width="1" height="1"/>
<rect x="575" y="374" width="1" height="1"/>
<rect x="576" y="375" width="1" height="2"/>
<rect x="577" y="377" width="1" height="1"/>
<rect x="578" y="378" width="1" height="1"/>
<rect x="579" y="379" width="1" height="1"/>
<rect x="580" y="380" width="1" height="1"/>
<rect x="581" y="381" width="1" height="1"/>
</g>
<g class="c" fill="#d0d0d0">
<rect x="334" y="196" width="1" height="1"/>
<rect x="335" y="197" width="1" height="1"/>
<rect x="336" y="198" width="1" height="1"/>
<rect x="337" y="199" width="1" height="1"/>
<rect x="338" y="200" width="1" height="1"/>
<rect x="339" y="201" width="1" height="1"/>
<rect x="340" y="202" width="1" height="1"/>
<rect x="341" y="203" width="1" height="1"/>
<rect x="342" y="204" width="1" height="1"/>
<rect x="343" y="205" width="1" height="1"/>
<rect x="344" y="206" width="1" height="1"/>
<rect x="345" y="207" width="1" height="1"/>
<rect x="346" y="208" width="1" height="1"/>
<rect x="347" y="209" width="1" height="1"/>
<rect x="348" y="210" width="1" height="1"/>
<rect x="349" y="211" width="1" height="1"/>
<rect x="350" y="212" width="1" height="1"/>
<rect x="351" y="213" width="2" height="1"/>
<rect x="353" y="214" width="1" height="1"/>
<rect x="354" y="215" width="1" height="1"/>
<rect x="355" y="216" width="1" height="1"/>
<rect x="356" y="217" width="1" height="1"/>
<rect x="357" y="218" width="1" height="1"/>
<rect x="358" y="219" width="1" height="1"/>
<rect x="359" y="220" width="1" height="1"/>
<rect x="360" y="221" width="1" height="1"/>
<rect x="361" y="222" width="1" height="1"/>
<rect x="362" y="223" width="1" height="1"/>
<rect x="363" y="224" width="1" height="1"/>
<rect x="364" y="225" width="1" height="1"/>
<rect x="365" y="226" width="1" height="1"/>
<rect x="366" y="227" width="1" height="1"/>
<rect x="367" y="228" width="1" height="1"/>
<rect x="368" y="229" width="1" height="1"/>
<rect x="369" y="230" width="1" height="1"/>
<rect x="370" y="231" width="1" height="1"/>
<rect x="371" y="232" width="1" height="1"/>
<rect x="372" y="233" width="1" height="1"/>
<rect x="373" y="234" width="1" height="1"/>
<rect x="374" y="235" width="1" height="1"/>
<rect x="375" y="236" width="1" height="1"/>
<rect x="376" y="237" width="1" height="1"/>
<rect x="377" y="238" width="1" height="1"/>
<rect x="378" y="239" width="1" height="1"/>
<rect x="379" y="240" width="1" height="1"/>
<rect x="380" y="241" width="1" height="1"/>
<rect x="381" y="242" width="1" height="1"/>
<rect x="382" y="243" width="1" height="1"/>
<rect x="383" y="244" width="1" height="1"/>
<rect x="384" y="245" width="1" height="1"/>
<rect x="385" y="246" width="1" height="1"/>
<rect x="386" y="247" width="1" height="1"/>
<rect x="387" y="248" width="2" height="1"/>
<rect x="389" y="249" width="1" height="1"/>
<rect x="390" y="250" width="1" height="1"/>
<rect x="391" y="251" width="1" height="1"/>
<rect x="392" y="252" width="1" height="1"/>
<rect x="393" y="253" width="1" height="1"/>
<rect x="394" y="254" width="1" height="1"/>
<rect x="395" y="255" width="1" height="1"/>
<rect x="396" y="256" width="1" height="1"/>
<rect x="397" y="257" width="1" height="1"/>
<rect x="398" y="258" width="1" height="1"/>
<rect x="399" y="259" width="1" height="1"/>
<rect x="400" y="260" width="1" height="1"/>
<rect x="401" y="261" width="1" height="1"/>
<rect x="402" y="262" width="1" height="1"/>
<rect x="403" y="263" width="1" height="1"/>
<rect x="404" y="264" width="1" height="1"/>
<rect x="405" y="265" width="1" height="1"/>
<rect x="406" y="266" width="1" height="1"/>
<rect x="407" y="267" width="1" height="1"/>
<rect x="408" y="268" width="1" height="1"/>
<rect x="409" y="269" width="1" height="1"/>
<rect x="410" y="270" width="1" height="1"/>
<rect x="411" y="271" width="1" height="1"/>
<rect x="412" y="272" width="1" height="1"/>
<rect x="413" y="273" width="1" height="1"/>
<rect x="414" y="274" width="1" height="1"/>
<rect x="415" y="275" width="1" height="1"/>
<rect x="416" y="276" width="1" height="1"/>
<rect x="417" y="277" width="1" height="1"/>
<rect x="418" y="278" width="1" height="1"/>
<rect x="419" y="279" width="1" height="1"/>
<rect x="420" y="280" width="1" height="1"/>
<rect x="421" y="281" width="1" height="1"/>
<rect x="422" y="282" width="1" height="1"/>
<rect x="423" y="283" width="2" height="1"/>
<rect x="425" y="284" width="1" height="1"/>
<rect x="426" y="285" width="1" height="1"/>
<rect x="427" y="286" width="1" height="1"/>
<rect x="428" y="287" width="1" height="1"/>
<rect x="429" y="288" width="1" height="1"/>
<rect x="430" y="289" width="1" height="1"/>
<rect x="431" y="290" width="1" height="1"/>
<rect x="432" y="291" width="1" height="1"/>
<rect x="433" y="292" width="1" height="1"/>
<rect x="434" y="293" width="1" height="1"/>
<rect x="435" y="294" width="1" height="1"/>
<rect x="436" y="295" width="1" height="1"/>
<rect x="437" y="296" width="1" height="1"/>
<rect x="438" y="297" width="1" height="1"/>
<rect x="439" y="298" width="1" height="1"/>
<rect x="440" y="299" width="1" height="1"/>
<rect x="441" y="300" width="1" height="1"/>
<rect x="442" y="301" width="1" height="1"/>
<rect x="443" y="302" width="1" height="1"/>
<rect x="444" y="303" width="1" height="1"/>
<rect x="445" y="304" width="1" height="1"/>
<rect x="446" y="305" width="1" height="1"/>
<rect x="447" y="306" width="1" height="1"/>
<rect x="448" y="307" width="1" height="1"/>
<rect x="449" y="308" width="1" height="1"/>
<rect x="450" y="309" width="1" height="1"/>
<rect x="451" y="310" width="1" height="1"/>
<rect x="452" y="311" width="1" height="1"/>
<rect x="453" y="312" width="1" height="1"/>
<rect x="454" y="313" width="1" height="1"/>
<rect x="455" y="314" width="1" height="1"/>
<rect x="456" y="315" width="1" height="1"/>
<rect x="457" y="316" width="1" height="1"/>
<rect x="458" y="317" width="2" height="1"/>
<rect x="460" y="318" width="1" height="1"/>
<rect x="461" y="319" width="1" height="1"/>
<rect x="462" y="320" width="1" height="1"/>
<rect x="463" y="321" width="1" height="1"/>
<rect x="464" y="322" width="1" height="1"/>
<rect x="465" y="323" width="1" height="1"/>
<rect x="466" y="324" width="1" height="1"/>
<rect x="467" y="325" width="1" height="1"/>
<rect x="468" y="326" width="1" height="1"/>
<rect x="469" y="327" width="1" height="1"/>
<rect x="470" y="328" width="1" height="1"/>
<rect x="471" y="329" width="1" height="1"/>
<rect x="472" y="330" width="1" height="1"/>
<rect x="473" y="331" width="1" height="1"/>
<rect x="474" y="332" width="1" height="1"/>
<rect x="475" y="333" width="1" height="1"/>
<rect x="476" y="334" width="1" height="1"/>
<rect x="477" y="335" width="1" height="1"/>
<rect x="478" y="336" width="1" height="1"/>
<rect x="479" y="337" width="1" height="1"/>
<rect x="480" y="338" width="1" height="1"/>
<rect x="481" y="339" width="1" height="1"/>
<rect x="482" y="340" width="1" height="1"/>
<rect x="483" y="341" width="1" height="1"/>
<rect x="484" y="342" width="1" height="1"/>
<rect x="485" y="343" width="1" height="1"/>
<rect x="486" y="344" width="1" height="1"/>
<rect x="487" y="345" width="1" height="1"/>
<rect x="488" y="346" width="1" height="1"/>
<rect x="489" y="347" width="1" height="1"/>
<rect x="490" y="348" width="1" height="1"/>
<rect x="491" y="349" width="1" height="1"/>
<rect x="492" y="350" width="1" height="1"/>
<rect x="493" y="351" width="1" height="1"/>
<rect x="494" y="352" width="2" height="1"/>
<rect x="496" y="353" width="1" height="1"/>
<rect x="497" y="354" width="1" height="1"/>
<rect x="498" y="355" width="1" height="1"/>
<rect x="499" y="356" width="1" height="1"/>
<rect x="500" y="357" width="1" height="1"/>
<rect x="501" y="358" width="1" height="1"/>
<rect x="502" y="359" width="1" height="1"/>
<rect x="503" y="360" width="1" height="1"/>
<rect x="504" y="361" width="1" height="1"/>
<rect x="505" y="362" width="1" height="1"/>
<rect x="506" y="363" width="1" height="1"/>
<rect x="507" y="364" width="1" height="1"/>
<rect x="508" y="365" width="1" height="1"/>
<rect x="509" y="366" width="1" height="1"/>
<rect x="510" y="367" width="1" height="1"/>
<rect x="511" y="368" width="1" height="1"/>
<rect x="512" y="369" width="1" height="1"/>
<rect x="513" y="370" width="1" height="1"/>
<rect x="514" y="371" width="1" height="1"/>
<rect x="515" y="372" width="1" height="1"/>
<rect x="516" y="373" width="1" height="1"/>
<rect x="517" y="374" width="1" height="1"/>
<rect x="518" y="375" width="1" height="1"/>
<rect x="519" y="376" width="1" height="1"/>
<rect x="520" y="377" width="1" height="1"/>
<rect x="521" y="378" width="1" height="1"/>
<rect x="522" y="379" width="1" height="1"/>
<rect x="523" y="380" width="1" height="1"/>
<rect x="524" y="381" width="1" height="1"/>
<rect x="525" y="382" width="1" height="1"/>
<rect x="526" y="383" width="1" height="1"/>
<rect x="527" y="384" width="1" height="1"/>
<rect x="528" y="385" width="1" height="1"/>
<rect x="529" y="386" width="1" height="1"/>
<rect x="530" y="387" width="2" height="1"/>
<rect x="532" y="388" width="1" height="1"/>
<rect x="533" y="389" width="1" height="1"/>
<rect x="534" y="390" width="1" height="1"/>
<rect x="535" y="391" width="1" height="1"/>
<rect x="536" y="392" width="1" height="1"/>
<rect x="537" y="393" width="1" height="1"/>
<rect x="538" y="394" width="1" height="1"/>
<rect x="539" y="395" width="1" height="1"/>
<rect x="540" y="396" width="1" height="1"/>
<rect x="541" y="397" width="1" height="1"/>
<rect x="542" y="398" width="1" height="1"/>
<rect x="543" y="399" width="1" height="1"/>
<rect x="544" y="400" width="1" height="1"/>
<rect x="545" y="401" width="1" height="1"/>
<rect x="546" y="402" width="1" height="1"/>
<rect x="547" y="403" width="1" height="1"/>
<rect x="548" y="404" width="1" height="1"/>
</g>
<rect class="c" x="2" y="298" width="596" height="1" fill="#ff0000"/>
<rect class="c" x="2" y="402" width="596" height="1" fill="#ff0000"/>
<rect class="c" x="414" y="205" width="184" height="1" fill="#ff0000"/>
<rect class="c" x="2" y="240" width="596" height="1" fill="#0000ff"/>
<rect class="c" x="484" y="243" width="43" height="1" fill="#ff0000"/>
<rect class="c" x="489" y="263" width="39" height="1" fill="#ff0000"/>
<rect class="c" x="474" y="326" width="124" height="1" fill="#000"/>
<rect class="c" x="506" y="298" width="1" height="1" fill="#fff"/>
<rect class="c" x="546" y="402" width="1" height="1" fill="#fff"/>
<rect class="c" x="2" y="45" width="5" height="1" fill="#0000ff"/>
<rect class="c" x="7" y="46" width="10" height="1" fill="#0000ff"/>
<rect class="c" x="17" y="47" width="9" height="1" fill="#0000ff"/>
<rect class="c" x="26" y="48" width="10" height="1" fill="#0000ff"/>
<rect class="c" x="36" y="49" width="9" height="1" fill="#0000ff"/>
<rect class="c" x="45" y="50" width="9" height="1" fill="#0000ff"/>
<rect class="c" x="54" y="51" width="10" height="1" fill="#0000ff"/>
<rect class="c" x="64" y="52" width="9" height="1" fill="#0000ff"/>
<rect class="c" x="73" y="53" width="10" height="1" fill="#0000ff"/>
<rect class="c" x="83" y="54" width="9" height="1" fill="#0000ff"/>
<rect class="c" x="92" y="55" width="10" height="1" fill="#0000ff"/>
<rect class="c" x="102" y="56" width="9" height="1" fill="#0000ff"/>
<rect class="c" x="111" y="57" width="10" height="1" fill="#0000ff"/>
<rect class="c" x="121" y="58" width="9" height="1" fill="#0000ff"/>
<rect class="c" x="130" y="59" width="9" height="1" fill="#0000ff"/>
<rect class="c" x="139" y="60" width="10" height="1" fill="#0000ff"/>
<rect class="c" x="149" y="61" width="9" height="1" fill="#0000ff"/>
<rect class="c" x="158" y="62" width="10" height="1" fill="#0000ff"/>
<rect class="c" x="168" y="63" width="9" height="1" fill="#0000ff"/>
<rect class="c" x="177" y="64" width="10" height="1" fill="#0000ff"/>
<rect class="c" x="187" y="65" width="9" height="1" fill="#0000ff"/>
<rect class="c" x="196" y="66" width="10" height="1" fill="#0000ff"/>
<rect class="c" x="206" y="67" width="9" height="1" fill="#0000ff"/>
<rect class="c" x="215" y="68" width="9" height="1" fill="#0000ff"/>
<rect class="c" x="224" y="69" width="10" height="1" fill="#0000ff"/>
<rect class="c" x="234" y="70" width="9" height="1" fill="#0000ff"/>
<rect class="c" x="243" y="71" width="10" height="1" fill="#0000ff"/>
<rect class="c" x="253" y="72" width="9" height="1" fill="#0000ff"/>
<rect class="c" x="262" y="73" width="10" height="1" fill="#0000ff"/>
<rect class="c" x="272" y="74" width="9" height="1" fill="#0000ff"/>
<rect class="c" x="281" y="75" width="10" height="1" fill="#0000ff"/>
<rect class="c" x="291" y="76" width="9" height="1" fill="#0000ff"/>
<rect class="c" x="300" y="77" width="9" height="1" fill="#0000ff"/>
<rect class="c" x="309" y="78" width="10" height="1" fill="#0000ff"/>
<rect class="c" x="319" y="79" width="9" height="1" fill="#0000ff"/>
<rect class="c" x="328" y="80" width="10" height="1" fill="#0000ff"/>
<rect class="c" x="338" y="81" width="9" height="1" fill="#0000ff"/>
<rect class="c" x="347" y="82" width="10" height="1" fill="#0000ff"/>
<rect class="c" x="357" y="83" width="9" height="1" fill="#0000ff"/>
<rect class="c" x="366" y="84" width="10" height="1" fill="#0000ff"/>
<rect class="c" x="376" y="85" width="9" height="1" fill="#0000ff"/>
<rect class="c" x="385" y="86" width="9" height="1" fill="#0000ff"/>
<rect class="c" x="394" y="87" width="10" height="1" fill="#0000ff"/>
<rect class="c" x="404" y="88" width="9" height="1" fill="#0000ff"/>
<rect class="c" x="413" y="89" width="10" height="1" fill="#0000ff"/>
<rect class="c" x="423" y="90" width="9" height="1" fill="#0000ff"/>
<rect class="c" x="432" y="91" width="10" height="1" fill="#0000ff"/>
<rect class="c" x="442" y="92" width="9" height="1" fill="#0000ff"/>
<rect class="c" x="451" y="93" width="10" height="1" fill="#0000ff"/>
<rect class="c" x="461" y="94" width="9" height="1" fill="#0000ff"/>
<rect class="c" x="470" y="95" width="9" height="1" fill="#0000ff"/>
<rect class="c" x="479" y="96" width="10" height="1" fill="#0000ff"/>
<rect class="c" x="489" y="97" width="9" height="1" fill="#0000ff"/>
<rect class="c" x="498" y="98" width="10" height="1" fill="#0000ff"/>
<rect class="c" x="508" y="99" width="9" height="1" fill="#0000ff"/>
<rect class="c" x="517" y="100" width="10" height="1" fill="#0000ff"/>
<rect class="c" x="527" y="101" width="9" height="1" fill="#0000ff"/>
<rect class="c" x="536" y="102" width="10" height="1" fill="#0000ff"/>
<rect class="c" x="546" y="103" width="9" height="1" fill="#0000ff"/>
<rect class="c" x="555" y="104" width="9" height="1" fill="#0000ff"/>
<rect class="c" x="564" y="105" width="10" height="1" fill="#0000ff"/>
<rect class="c" x="574" y="106" width="9" height="1" fill="#0000ff"/>
<rect class="c" x="583" y="107" width="10" height="1" fill="#0000ff"/>
<rect class="c" x="593" y="108" width="5" height="1" fill="#0000ff"/>
<rect class="c" x="1" y="1" width="1" height="460" fill="#000"/>
<rect class="c" x="598" y="1" width="1" height="460" fill="#000"/>
<rect class="c" x="1" y="1" width="598" height="1" fill="#000"/>
<rect class="c" x="1" y="460" width="598" height="1" fill="#000"/>
<g class="c"><rect x="591" y="453" width="1" height="7" fill="#808080"/><rect x="591" y="453" width="7" height="1" fill="#808080"/></g>
<polygon points="592.5,460 598,454.5 598,457 595,460" fill="#404040"/>
<rect class="c" x="601" y="52" width="4" height="1" fill="#444"/>
<text transform="translate(607,57) scale(0.885,1)" fill="#000">5150</text>
<rect class="c" x="601" y="87" width="4" height="1" fill="#444"/>
<text transform="translate(607,92) scale(0.885,1)" fill="#000">5100</text>
<rect class="c" x="601" y="122" width="4" height="1" fill="#444"/>
<text transform="translate(607,127) scale(0.885,1)" fill="#000">5050</text>
<rect class="c" x="601" y="158" width="4" height="1" fill="#444"/>
<text transform="translate(607,163) scale(0.885,1)" fill="#000">5000</text>
<rect class="c" x="601" y="193" width="4" height="1" fill="#444"/>
<text transform="translate(607,198) scale(0.885,1)" fill="#000">4950</text>
<rect class="c" x="601" y="228" width="4" height="1" fill="#444"/>
<text transform="translate(607,233) scale(0.885,1)" fill="#000">4900</text>
<rect class="c" x="601" y="263" width="4" height="1" fill="#444"/>
<text transform="translate(607,268) scale(0.885,1)" fill="#000">4850</text>
<rect class="c" x="601" y="299" width="4" height="1" fill="#444"/>
<text transform="translate(607,304) scale(0.885,1)" fill="#000">4800</text>
<rect class="c" x="601" y="334" width="4" height="1" fill="#444"/>
<text transform="translate(607,339) scale(0.885,1)" fill="#000">4750</text>
<rect class="c" x="601" y="369" width="4" height="1" fill="#444"/>
<text transform="translate(607,374) scale(0.885,1)" fill="#000">4700</text>
<rect class="c" x="601" y="404" width="4" height="1" fill="#444"/>
<text transform="translate(607,409) scale(0.885,1)" fill="#000">4650</text>
<rect class="c" x="601" y="440" width="4" height="1" fill="#444"/>
<text transform="translate(607,445) scale(0.885,1)" fill="#000">4600</text>
<text transform="translate(603,13) scale(0.885,1)" fill="#000">€</text>
<rect class="c" x="10" y="464" width="1" height="4" fill="#000"/>
<text transform="translate(13,477) scale(0.885,1)" fill="#000">5</text>
<rect class="c" x="64" y="464" width="1" height="4" fill="#000"/>
<text transform="translate(67,477) scale(0.885,1)" fill="#000">8</text>
<rect class="c" x="117" y="464" width="1" height="4" fill="#000"/>
<text transform="translate(120,477) scale(0.885,1)" fill="#000">9</text>
<rect class="c" x="171" y="464" width="1" height="4" fill="#000"/>
<text transform="translate(172,477) scale(0.885,1)" fill="#000">10</text>
<rect class="c" x="225" y="464" width="1" height="4" fill="#000"/>
<text transform="translate(226,477) scale(0.885,1)" fill="#000">11</text>
<rect class="c" x="278" y="464" width="1" height="4" fill="#000"/>
<text transform="translate(279,477) scale(0.885,1)" fill="#000">12</text>
<rect class="c" x="332" y="464" width="1" height="4" fill="#000"/>
<text transform="translate(333,477) scale(0.885,1)" fill="#000">15</text>
<rect class="c" x="386" y="464" width="1" height="4" fill="#000"/>
<text transform="translate(387,477) scale(0.885,1)" fill="#000">16</text>
<rect class="c" x="439" y="464" width="1" height="4" fill="#000"/>
<text transform="translate(440,477) scale(0.885,1)" fill="#000">17</text>
<rect class="c" x="527" y="464" width="1" height="4" fill="#000"/>
<text transform="translate(528,477) scale(0.885,1)" fill="#000">18</text>
<rect class="c" x="26" y="464" width="1" height="4" fill="#000"/>
<rect class="c" x="80" y="464" width="1" height="4" fill="#000"/>
<rect class="c" x="134" y="464" width="1" height="4" fill="#000"/>
<rect class="c" x="187" y="464" width="1" height="4" fill="#000"/>
<rect class="c" x="241" y="464" width="1" height="4" fill="#000"/>
<rect class="c" x="295" y="464" width="1" height="4" fill="#000"/>
<rect class="c" x="348" y="464" width="1" height="4" fill="#000"/>
<rect class="c" x="402" y="464" width="1" height="4" fill="#000"/>
<rect class="c" x="456" y="464" width="1" height="4" fill="#000"/>
<text transform="translate(492,282) scale(0.885,1)" fill="#d4d8dc">4824</text>
<text transform="translate(492,348) scale(0.885,1)" fill="#d4d8dc">4727</text>
<text transform="translate(492,94) scale(0.885,1)" fill="#0000ff">5089</text>
<text transform="translate(16,238) scale(0.885,1)" fill="#0000ff">4884</text>
<text transform="translate(492,216) scale(0.885,1)" fill="#ff0000">4934</text>
<text transform="translate(492,254) scale(0.885,1)" fill="#ff0000">4879</text>
<text transform="translate(492,274) scale(0.885,1)" fill="#ff0000">4851</text>
<text transform="translate(492,309) scale(0.885,1)" fill="#ff0000">4802</text>
<text transform="translate(492,337) scale(0.885,1)" fill="#000">4761</text>
<text transform="translate(492,413) scale(0.885,1)" fill="#ff0000">4653</text>
<g class="c" fill="#006400"><rect x="10" y="4" width="1" height="12"/><rect x="10" y="8" width="4" height="1"/><rect x="7" y="12" width="4" height="1"/></g>
<text transform="translate(18,14) scale(0.888,1)" fill="#006400" id="t1">DAX Perf. Index [.DAX&#160; 15 Minuten]</text>
<text transform="translate(190.7,14) scale(0.891,1)" fill="#000" id="t2">17.06.2009 18:00:00 - O:4800 H:4800 L:4800 C:4800</text>
<g class="c" fill="#000"><rect x="6" y="21" width="5" height="1"/><rect x="6" y="27" width="5" height="1"/><rect x="4" y="23" width="1" height="3"/><rect x="12" y="23" width="1" height="3"/><rect x="7" y="23" width="4" height="1"/><rect x="7" y="25" width="4" height="1"/><rect x="6" y="24" width="1" height="1"/></g>
<g class="c" fill="#444"><rect x="5" y="22" width="1" height="1"/><rect x="11" y="22" width="1" height="1"/><rect x="5" y="26" width="1" height="1"/><rect x="11" y="26" width="1" height="1"/></g>
<text transform="translate(15.3,30) scale(0.885,1)" fill="#000" id="t3">www.tradesignalonline.com</text>
</svg>
</body></html>
